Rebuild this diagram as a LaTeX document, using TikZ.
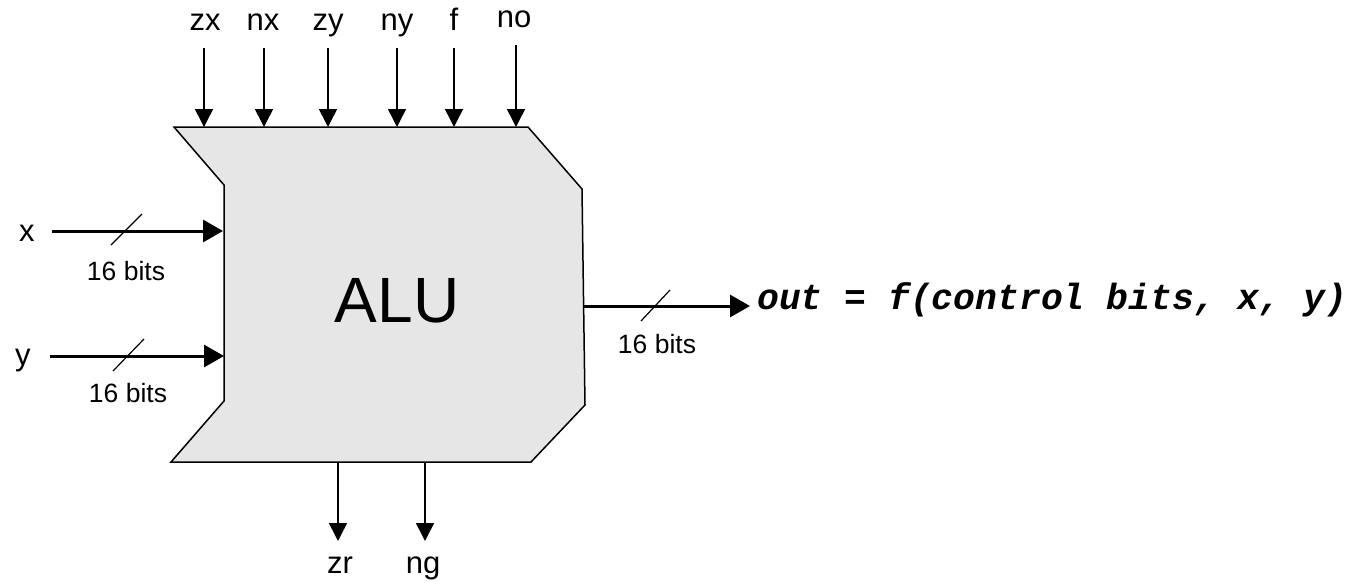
\documentclass[tikz,border=0pt]{standalone}
\usepackage{fontspec}
\setmainfont{Liberation Sans}
\newfontfamily\codefont{Liberation Mono}
\usetikzlibrary{arrows.meta}
\definecolor{alufill}{HTML}{E6E6E6}
\tikzset{
  lbl/.style={anchor=base, inner sep=0pt, font=\fontsize{31}{36}\selectfont},
  bitlbl/.style={anchor=base, inner sep=0pt, font=\fontsize{26.5}{30}\selectfont},
  ctrl/.style={line width=1.5pt, -{Triangle[length=18pt,width=18pt]}},
  bus/.style={line width=3pt, -{Triangle[length=20pt,width=22pt]}},
  slash/.style={line width=1.2pt},
  alubody/.style={fill=alufill, draw=black, line width=1.5pt, line join=miter}
}
\begin{document}
\begin{tikzpicture}[x=1pt,y=-1pt]
\useasboundingbox (0,0) rectangle (1363,584);
% ALU body
\draw[alubody] (174,127) -- (528,127) -- (582,189) -- (585,405) -- (531,462) -- (171,462) -- (224,401) -- (224,185) -- cycle;
\node[inner sep=0pt, font=\fontsize{64}{76}\selectfont] (alu) at (397,301) {ALU};
% top control inputs
\foreach \n/\lx/\ax/\sy/\by in {zx/205/204/48/30, nx/263/264/48/30, zy/328/328/48/30, ny/397/397/48/30, f/454/454/48/30, no/514/516/45/27}{
  \node[lbl] (l\n) at (\lx,\by) {\n};
  \coordinate (s\n) at (\ax,\sy);
  \coordinate (e\n) at (\ax,127);
  \draw[ctrl] (s\n) -- (e\n);
}
% data inputs
\node[lbl] (lx) at (27,241) {x};
\node[lbl] (ly) at (23,365) {y};
\coordinate (xs) at (52,231);
\coordinate (xe) at (223,231);
\coordinate (ys) at (50,356);
\coordinate (ye) at (224,356);
\draw[bus] (xs) -- (xe);
\draw[bus] (ys) -- (ye);
\coordinate (xsl1) at (111,245); \coordinate (xsl2) at (142,214);
\coordinate (ysl1) at (113,371); \coordinate (ysl2) at (144,339);
\draw[slash] (xsl1) -- (xsl2);
\draw[slash] (ysl1) -- (ysl2);
\node[bitlbl] (bx) at (126,280) {16 bits};
\node[bitlbl] (by) at (128,402) {16 bits};
% output
\coordinate (os) at (584,306);
\coordinate (oe) at (750,306);
\draw[bus] (os) -- (oe);
\coordinate (osl1) at (641,321); \coordinate (osl2) at (670,290);
\draw[slash] (osl1) -- (osl2);
\node[bitlbl] (bo) at (657,353) {16 bits};
\node[anchor=base west, inner sep=0pt, font=\codefont\bfseries\itshape\fontsize{36.4}{40}\selectfont] (outtxt) at (757,309) {out = f(control bits, x, y)};
% status outputs
\coordinate (zrs) at (338,462); \coordinate (zre) at (338,541);
\coordinate (ngs) at (425,462); \coordinate (nge) at (425,541);
\draw[ctrl] (zrs) -- (zre);
\draw[ctrl] (ngs) -- (nge);
\node[lbl] (lzr) at (340,573) {zr};
\node[lbl] (lng) at (423,573) {ng};
\end{tikzpicture}
\end{document}
